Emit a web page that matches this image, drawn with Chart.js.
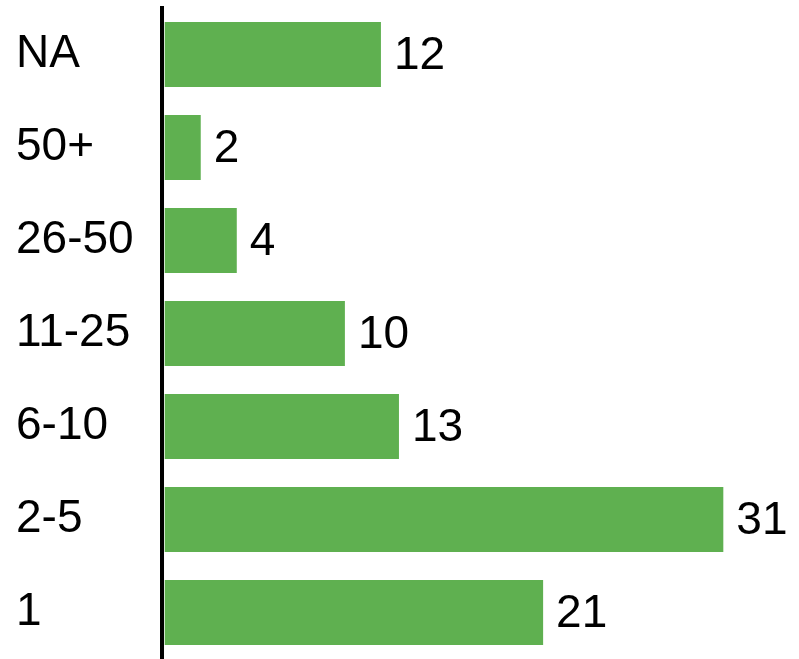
<!DOCTYPE html>
<html>
<head>
<meta charset="utf-8">
<script src="https://cdn.jsdelivr.net/npm/chart.js@4"></script>
<style>
  html, body { margin: 0; padding: 0; background: #fff; }
  #wrap { width: 799px; height: 659px; }
</style>
</head>
<body>
<div id="wrap"><canvas id="barChart"></canvas></div>
<script>
// данные
const categories = ['NA', '50+', '26-50', '11-25', '6-10', '2-5', '1'];
const counts = [12, 2, 4, 10, 13, 31, 21];

const fontFamily = "'Liberation Sans', Arial, sans-serif";

// подписи значений справа от столбцов
const valueLabels = {
    id: 'valueLabels',
    afterDatasetsDraw(chart) {
        const ctx = chart.ctx;
        const meta = chart.getDatasetMeta(0);
        ctx.save();
        ctx.font = '46px ' + fontFamily;
        ctx.fillStyle = '#000';
        ctx.textAlign = 'left';
        ctx.textBaseline = 'middle';
        meta.data.forEach(function(bar, i) {
            ctx.fillText(String(counts[i]), bar.x + 13, bar.y + 2);
        });
        ctx.restore();
    }
};

new Chart(document.getElementById('barChart').getContext('2d'), {
    type: 'bar',
    data: {
        labels: categories,
        datasets: [{
            data: counts,
            backgroundColor: '#5FB050',
            borderWidth: 0,
            barPercentage: 1,
            categoryPercentage: 0.7
        }]
    },
    options: {
        indexAxis: 'y',
        responsive: true,
        maintainAspectRatio: false,
        animation: false,
        layout: { padding: { left: 16, top: 8, right: 0, bottom: 0 } },
        plugins: {
            legend: { display: false },
            tooltip: { enabled: false }
        },
        scales: {
            x: {
                display: false,
                min: -0.15,
                max: 35.2
            },
            y: {
                grid: { display: false },
                border: { display: true, color: '#000', width: 4 },
                ticks: {
                    crossAlign: 'far',
                    color: '#000',
                    padding: 0,
                    font: { family: fontFamily, size: 46 }
                },
                afterFit: function(scale) {
                    scale.width = 146;
                    scale.paddingTop = 0;
                    scale.paddingBottom = 0;
                }
            }
        }
    },
    plugins: [valueLabels]
});
</script>
</body>
</html>
